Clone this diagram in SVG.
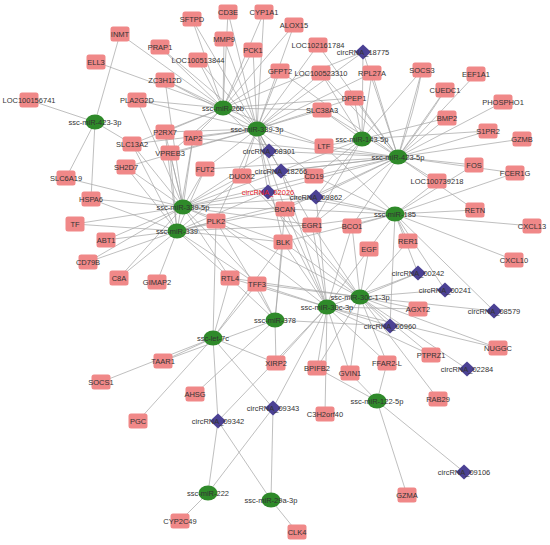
<svg xmlns="http://www.w3.org/2000/svg" width="550" height="545" viewBox="0 0 550 545">
<style>
#edges path{stroke:#a3a3a3;stroke-width:0.7;fill:none}
.g{fill:#f08888}
.m{fill:#2f8a2a}
.c{fill:#4b4194}
text{font-family:"Liberation Sans",Arial,sans-serif;font-size:7.5px;fill:#333;text-anchor:middle}
.red{fill:#e8231f}
</style>
<defs>
<rect id="box" x="-9.5" y="-7.5" width="19" height="15" rx="2.5" class="g"/>
<ellipse id="ell" rx="9.5" ry="7.5" class="m"/>
<path id="dia" d="M0,-7.5L8,0L0,7.5L-8,0Z" class="c"/>
</defs>
<rect width="550" height="545" fill="#fff"/>
<g id="edges">
<path d="M95 122L120 34M95 122L29 100M95 122L66 178M95 122L91 199M95 122L132 144"/>
<path d="M223 108L120 34M223 108L160 47M223 108L96 62M223 108L165 80M223 108L192 19M223 108L228 12M223 108L224 39M223 108L264 12M223 108L253 50M223 108L198 60M223 108L280 71M223 108L294 25M223 108L137 100M223 108L165 132M223 108L132 144M223 108L170 153M223 108L193 138M223 108L322 110M223 108L354 98M223 108L269 151M223 108L363 52M223 108L324 146"/>
<path d="M257 129L192 19M257 129L228 12M257 129L264 12M257 129L294 25M257 129L224 39M257 129L253 50M257 129L318 45M257 129L198 60M257 129L280 71M257 129L321 73M257 129L372 73M257 129L354 98M257 129L322 110M257 129L324 146M257 129L193 138M257 129L205 169M257 129L242 176M257 129L314 176M257 129L137 100M257 129L165 80M257 129L160 47M257 129L165 132M257 129L170 153M257 129L132 144M257 129L126 167M257 129L269 151M257 129L281 171M257 129L268 192M257 129L363 52M257 129L285 209M257 129L312 225M257 129L283 242M257 129L216 221"/>
<path d="M362 139L363 52M362 139L372 73M362 139L321 73M362 139L354 98M362 139L322 110M362 139L324 146M362 139L314 176M362 139L316 197M362 139L281 171M362 139L447 118M362 139L488 131M362 139L422 70M362 139L312 225"/>
<path d="M398 157L422 70M398 157L476 74M398 157L445 90M398 157L503 102M398 157L447 118M398 157L488 131M398 157L522 139M398 157L474 165M398 157L515 173M398 157L437 181M398 157L372 73M398 157L354 98M398 157L363 52M398 157L318 45M398 157L322 110M398 157L324 146M398 157L314 176M398 157L316 197M398 157L281 171M398 157L269 151M398 157L312 225M398 157L352 226M398 157L475 210M398 157L285 209M398 157L321 73M398 157L280 71M398 157L268 192M398 157L242 176M398 157L205 169M398 157L193 138"/>
<path d="M398 157Q415 110 422 70M398 157Q428 118 445 90"/>
<path d="M395 214L437 181M395 214L475 210M395 214L532 226M395 214L514 260M395 214L408 241M395 214L474 165M395 214L515 173M395 214L418 273M395 214L445 290M395 214L369 249M395 214L352 226M395 214L312 225M395 214L283 242M395 214L285 209M395 214L316 197M395 214L314 176M395 214L324 146M395 214L268 192M395 214L390 326M395 214L494 311"/>
<path d="M183 207L132 144M183 207L170 153M183 207L126 167M183 207L165 132M183 207L193 138M183 207L205 169M183 207L242 176M183 207L137 100M183 207L66 178M183 207L91 199M183 207L75 224M183 207L106 240M183 207L88 262M183 207L119 278M183 207L216 221M183 207L285 209M183 207L283 242M183 207L312 225M183 207L268 192M183 207L269 151M183 207L281 171M183 207L316 197M183 207L257 284M183 207L230 278M183 207L165 80M183 207L314 176"/>
<path d="M177 231L91 199M177 231L75 224M177 231L106 240M177 231L88 262M177 231L119 278M177 231L157 282M177 231L132 144M177 231L170 153M177 231L126 167M177 231L165 132M177 231L193 138M177 231L205 169M177 231L216 221M177 231L285 209M177 231L283 242M177 231L268 192M177 231L316 197M177 231L312 225M177 231L257 284M177 231L230 278M177 231L242 176"/>
<path d="M360 297L369 249M360 297L408 241M360 297L418 273M360 297L445 290M360 297L494 311M360 297L418 309M360 297L390 326M360 297L498 348M360 297L431 355M360 297L387 363M360 297L467 369M360 297L438 399M360 297L257 284M360 297L230 278M360 297L283 242M360 297L285 209M360 297L312 225M360 297L352 226M360 297L350 373M360 297L317 368M360 297L216 221M360 297L242 176"/>
<path d="M327 307L257 284M327 307L230 278M327 307L283 242M327 307L285 209M327 307L312 225M327 307L352 226M327 307L369 249M327 307L268 192M327 307L316 197M327 307L390 326M327 307L418 309M327 307L418 273M327 307L431 355M327 307L387 363M327 307L350 373M327 307L317 368M327 307L325 414M327 307L276 363M327 307L498 348M327 307L273 408M327 307L218 421M327 307L216 221M327 307L281 171"/>
<path d="M275 320L257 284M275 320L283 242M275 320L230 278M275 320L276 363M275 320L195 394M275 320L390 326M275 320L216 221M275 320L285 209M275 320L163 361"/>
<path d="M213 338L163 361M213 338L101 382M213 338L138 421M213 338L276 363M213 338L218 421M213 338L273 408M213 338L230 278M213 338L216 221M213 338L257 284M213 338L283 242"/>
<path d="M377 401L407 495M377 401L464 472M377 401L387 363M377 401L350 373M377 401L317 368"/>
<path d="M208 493L218 421M208 493L273 408M208 493L180 521M271 500L218 421M271 500L273 408M271 500L297 532"/>
</g>
<g id="n-INMT" transform="translate(120,34)"><use href="#box"/><text y="2.6">INMT</text></g>
<g id="n-PRAP1" transform="translate(160,47)"><use href="#box"/><text y="2.6">PRAP1</text></g>
<g id="n-ELL3" transform="translate(96,62)"><use href="#box"/><text y="2.6">ELL3</text></g>
<g id="n-ZC3H12D" transform="translate(165,80)"><use href="#box"/><text y="2.6">ZC3H12D</text></g>
<g id="n-LOC100156741" transform="translate(29,100)"><use href="#box"/><text y="2.6">LOC100156741</text></g>
<g id="n-PLA2G2D" transform="translate(137,100)"><use href="#box"/><text y="2.6">PLA2G2D</text></g>
<g id="n-P2RX7" transform="translate(165,132)"><use href="#box"/><text y="2.6">P2RX7</text></g>
<g id="n-SLC13A2" transform="translate(132,144)"><use href="#box"/><text y="2.6">SLC13A2</text></g>
<g id="n-VPREB3" transform="translate(170,153)"><use href="#box"/><text y="2.6">VPREB3</text></g>
<g id="n-SH2D7" transform="translate(126,167)"><use href="#box"/><text y="2.6">SH2D7</text></g>
<g id="n-SLC6A19" transform="translate(66,178)"><use href="#box"/><text y="2.6">SLC6A19</text></g>
<g id="n-SFTPD" transform="translate(192,19)"><use href="#box"/><text y="2.6">SFTPD</text></g>
<g id="n-CD3E" transform="translate(228,12)"><use href="#box"/><text y="2.6">CD3E</text></g>
<g id="n-CYP1A1" transform="translate(264,12)"><use href="#box"/><text y="2.6">CYP1A1</text></g>
<g id="n-ALOX15" transform="translate(294,25)"><use href="#box"/><text y="2.6">ALOX15</text></g>
<g id="n-MMP9" transform="translate(224,39)"><use href="#box"/><text y="2.6">MMP9</text></g>
<g id="n-PCK1" transform="translate(253,50)"><use href="#box"/><text y="2.6">PCK1</text></g>
<g id="n-LOC102161784" transform="translate(318,45)"><use href="#box"/><text y="2.6">LOC102161784</text></g>
<g id="n-LOC100513844" transform="translate(198,60)"><use href="#box"/><text y="2.6">LOC100513844</text></g>
<g id="n-GFPT2" transform="translate(280,71)"><use href="#box"/><text y="2.6">GFPT2</text></g>
<g id="n-LOC100523310" transform="translate(321,73)"><use href="#box"/><text y="3">LOC100523310</text></g>
<g id="n-RPL27A" transform="translate(372,73)"><use href="#box"/><text y="2.6">RPL27A</text></g>
<g id="n-DPEP1" transform="translate(354,98)"><use href="#box"/><text y="2.6">DPEP1</text></g>
<g id="n-SLC38A3" transform="translate(322,110)"><use href="#box"/><text y="2.6">SLC38A3</text></g>
<g id="n-TAP2" transform="translate(193,138)"><use href="#box"/><text y="2.6">TAP2</text></g>
<g id="n-LTF" transform="translate(324,146)"><use href="#box"/><text y="2.6">LTF</text></g>
<g id="n-FUT2" transform="translate(205,169)"><use href="#box"/><text y="2.6">FUT2</text></g>
<g id="n-DUOX2" transform="translate(242,176)"><use href="#box"/><text y="2.6">DUOX2</text></g>
<g id="n-CD19" transform="translate(314,176)"><use href="#box"/><text y="2.6">CD19</text></g>
<g id="n-SOCS3" transform="translate(422,70)"><use href="#box"/><text y="2.6">SOCS3</text></g>
<g id="n-EEF1A1" transform="translate(476,74)"><use href="#box"/><text y="2.6">EEF1A1</text></g>
<g id="n-CUEDC1" transform="translate(445,90)"><use href="#box"/><text y="2.6">CUEDC1</text></g>
<g id="n-PHOSPHO1" transform="translate(503,102)"><use href="#box"/><text y="2.6">PHOSPHO1</text></g>
<g id="n-BMP2" transform="translate(447,118)"><use href="#box"/><text y="2.6">BMP2</text></g>
<g id="n-S1PR2" transform="translate(488,131)"><use href="#box"/><text y="2.6">S1PR2</text></g>
<g id="n-GZMB" transform="translate(522,139)"><use href="#box"/><text y="2.6">GZMB</text></g>
<g id="n-FOS" transform="translate(474,165)"><use href="#box"/><text y="2.6">FOS</text></g>
<g id="n-FCER1G" transform="translate(515,173)"><use href="#box"/><text y="2.6">FCER1G</text></g>
<g id="n-LOC100739218" transform="translate(437,181)"><use href="#box"/><text y="2.6">LOC100739218</text></g>
<g id="n-RETN" transform="translate(475,210)"><use href="#box"/><text y="2.6">RETN</text></g>
<g id="n-CXCL13" transform="translate(532,226)"><use href="#box"/><text y="2.6">CXCL13</text></g>
<g id="n-EGF" transform="translate(369,249)"><use href="#box"/><text y="2.6">EGF</text></g>
<g id="n-RER1" transform="translate(408,241)"><use href="#box"/><text y="2.6">RER1</text></g>
<g id="n-CXCL10" transform="translate(514,260)"><use href="#box"/><text y="2.6">CXCL10</text></g>
<g id="n-AGXT2" transform="translate(418,309)"><use href="#box"/><text y="2.6">AGXT2</text></g>
<g id="n-NUGGC" transform="translate(498,348)"><use href="#box"/><text y="2.6">NUGGC</text></g>
<g id="n-PTPRZ1" transform="translate(431,355)"><use href="#box"/><text y="2.6">PTPRZ1</text></g>
<g id="n-FFAR2-L" transform="translate(387,363)"><use href="#box"/><text y="2.6">FFAR2-L</text></g>
<g id="n-RAB29" transform="translate(438,399)"><use href="#box"/><text y="2.6">RAB29</text></g>
<g id="n-GZMA" transform="translate(407,495)"><use href="#box"/><text y="2.6">GZMA</text></g>
<g id="n-XIRP2" transform="translate(276,363)"><use href="#box"/><text y="2.6">XIRP2</text></g>
<g id="n-BPIFB2" transform="translate(317,368)"><use href="#box"/><text y="2.6">BPIFB2</text></g>
<g id="n-GVIN1" transform="translate(350,373)"><use href="#box"/><text y="2.6">GVIN1</text></g>
<g id="n-AHSG" transform="translate(195,394)"><use href="#box"/><text y="2.6">AHSG</text></g>
<g id="n-C3H2orf40" transform="translate(325,414)"><use href="#box"/><text y="2.6">C3H2orf40</text></g>
<g id="n-CYP2C49" transform="translate(180,521)"><use href="#box"/><text y="2.6">CYP2C49</text></g>
<g id="n-CLK4" transform="translate(297,532)"><use href="#box"/><text y="2.6">CLK4</text></g>
<g id="n-TAAR1" transform="translate(163,361)"><use href="#box"/><text y="2.6">TAAR1</text></g>
<g id="n-SOCS1" transform="translate(101,382)"><use href="#box"/><text y="2.6">SOCS1</text></g>
<g id="n-PGC" transform="translate(138,421)"><use href="#box"/><text y="2.6">PGC</text></g>
<g id="n-HSPA6" transform="translate(91,199)"><use href="#box"/><text y="2.6">HSPA6</text></g>
<g id="n-TF" transform="translate(75,224)"><use href="#box"/><text y="2.6">TF</text></g>
<g id="n-ABT1" transform="translate(106,240)"><use href="#box"/><text y="2.6">ABT1</text></g>
<g id="n-CD79B" transform="translate(88,262)"><use href="#box"/><text y="2.6">CD79B</text></g>
<g id="n-C8A" transform="translate(119,278)"><use href="#box"/><text y="2.6">C8A</text></g>
<g id="n-GIMAP2" transform="translate(157,282)"><use href="#box"/><text y="2.6">GIMAP2</text></g>
<g id="n-BCAN" transform="translate(285,209)"><use href="#box"/><text y="2.6">BCAN</text></g>
<g id="n-PLK2" transform="translate(216,221)"><use href="#box"/><text y="2.6">PLK2</text></g>
<g id="n-EGR1" transform="translate(312,225)"><use href="#box"/><text y="2.6">EGR1</text></g>
<g id="n-BCO1" transform="translate(352,226)"><use href="#box"/><text y="2.6">BCO1</text></g>
<g id="n-BLK" transform="translate(283,242)"><use href="#box"/><text y="2.6">BLK</text></g>
<g id="n-RTL4" transform="translate(230,278)"><use href="#box"/><text y="2.6">RTL4</text></g>
<g id="n-TFF3" transform="translate(257,284)"><use href="#box"/><text y="2.6">TFF3</text></g>
<g id="n-ssc-miR-423-3p" transform="translate(95,122)"><use href="#ell"/><text y="2.6">ssc-miR-423-3p</text></g>
<g id="n-ssc-miR-26b" transform="translate(223,108)"><use href="#ell"/><text y="2.6">ssc-miR-26b</text></g>
<g id="n-ssc-miR-339-3p" transform="translate(257,129)"><use href="#ell"/><text y="2.6">ssc-miR-339-3p</text></g>
<g id="n-ssc-miR-143-5p" transform="translate(362,139)"><use href="#ell"/><text y="2.6">ssc-miR-143-5p</text></g>
<g id="n-ssc-miR-423-5p" transform="translate(398,157)"><use href="#ell"/><text y="2.6">ssc-miR-423-5p</text></g>
<g id="n-ssc-miR-339-5p" transform="translate(183,207)"><use href="#ell"/><text y="2.6">ssc-miR-339-5p</text></g>
<g id="n-ssc-miR-339" transform="translate(177,231)"><use href="#ell"/><text y="2.6">ssc-miR-339</text></g>
<g id="n-ssc-miR-185" transform="translate(395,214)"><use href="#ell"/><text y="2.6">ssc-miR-185</text></g>
<g id="n-ssc-miR-30c-1-3p" transform="translate(360,297)"><use href="#ell"/><text y="2.6">ssc-miR-30c-1-3p</text></g>
<g id="n-ssc-miR-30c-3p" transform="translate(327,307)"><use href="#ell"/><text y="2.6">ssc-miR-30c-3p</text></g>
<g id="n-ssc-miR-378" transform="translate(275,320)"><use href="#ell"/><text y="2.6">ssc-miR-378</text></g>
<g id="n-ssc-let-7c" transform="translate(213,338)"><use href="#ell"/><text y="2.6">ssc-let-7c</text></g>
<g id="n-ssc-miR-122-5p" transform="translate(377,401)"><use href="#ell"/><text y="2.6">ssc-miR-122-5p</text></g>
<g id="n-ssc-miR-222" transform="translate(208,493)"><use href="#ell"/><text y="2.6">ssc-miR-222</text></g>
<g id="n-ssc-miR-29a-3p" transform="translate(271,500)"><use href="#ell"/><text y="2.6">ssc-miR-29a-3p</text></g>
<g id="n-circRNA_18775" transform="translate(363,52)"><use href="#dia"/><text y="2.6">circRNA_18775</text></g>
<g id="n-circRNA_08301" transform="translate(269,151)"><use href="#dia"/><text y="2.6">circRNA_08301</text></g>
<g id="n-circRNA_18266" transform="translate(281,171)"><use href="#dia"/><text y="2.6">circRNA_18266</text></g>
<g id="n-circRNA_02026" transform="translate(268,192)"><use href="#dia"/><text y="2.6" class="red">circRNA_02026</text></g>
<g id="n-circRNA_09862" transform="translate(316,197)"><use href="#dia"/><text y="2.6">circRNA_09862</text></g>
<g id="n-circRNA_00242" transform="translate(418,273)"><use href="#dia"/><text y="2.6">circRNA_00242</text></g>
<g id="n-circRNA_00241" transform="translate(445,290)"><use href="#dia"/><text y="2.6">circRNA_00241</text></g>
<g id="n-circRNA_08579" transform="translate(494,311)"><use href="#dia"/><text y="2.6">circRNA_08579</text></g>
<g id="n-circRNA_06960" transform="translate(390,326)"><use href="#dia"/><text y="2.6">circRNA_06960</text></g>
<g id="n-circRNA_02284" transform="translate(467,369)"><use href="#dia"/><text y="2.6">circRNA_02284</text></g>
<g id="n-circRNA_09106" transform="translate(464,472)"><use href="#dia"/><text y="2.6">circRNA_09106</text></g>
<g id="n-circRNA_09343" transform="translate(273,408)"><use href="#dia"/><text y="2.6">circRNA_09343</text></g>
<g id="n-circRNA_09342" transform="translate(218,421)"><use href="#dia"/><text y="2.6">circRNA_09342</text></g>
</svg>
